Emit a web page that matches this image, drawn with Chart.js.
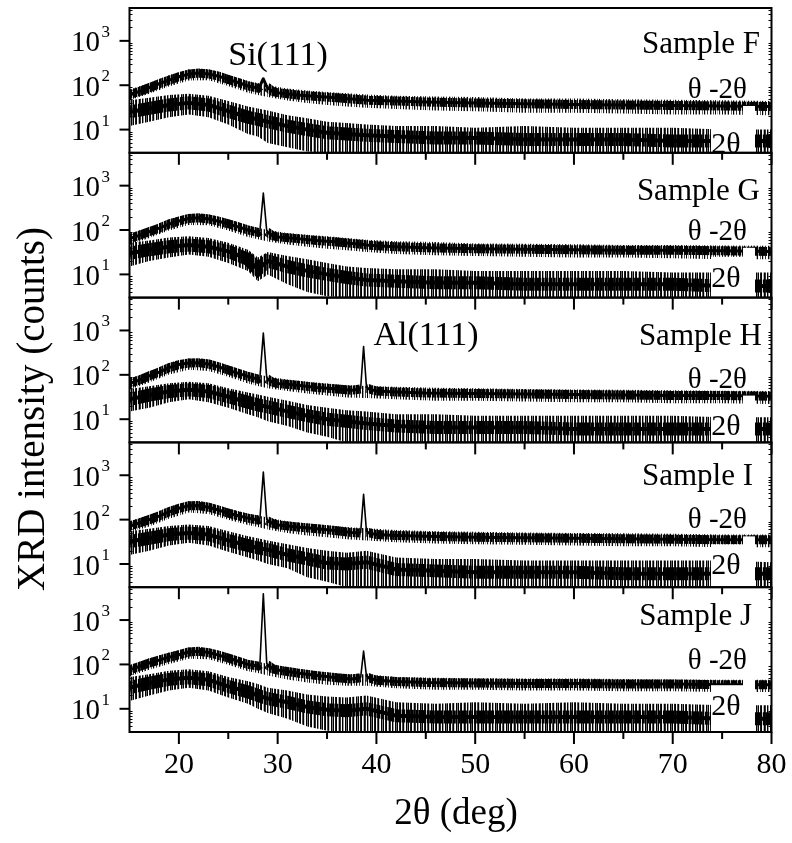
<!DOCTYPE html>
<html><head><meta charset="utf-8">
<script src="https://cdn.jsdelivr.net/npm/chart.js@4.4.1/dist/chart.umd.min.js"></script>
<style>html,body{margin:0;padding:0;background:#fff;}#wrap{position:relative;width:792px;height:843px;}</style>
</head><body><div id="wrap"><canvas id="c"></canvas></div>
<script>
// ---------- data ----------
const angleCore = [15,16,17,18,19,20,21,22,23,24,25,26,27,28,28.2,28.55,28.9,29.5,30,32,34,36,37.5,38.4,38.7,39.0,40,42,45,50,55,60,65,70,75,80];
const angleBand = [15,17,19,21,23,25,27,28,29,31,33,35,37,39,42,46,50,55,60,65,70,75,80];

const sampleNames = ['Sample F','Sample G','Sample H','Sample I','Sample J'];

// Sample F
const thetaCoreF = [62,72,88,108,130,155,178,188,180,160,135,115,96,86,95,140,92,72,68,60,56,52,49,47,47,46,45,44,42,40,38,37,36,35,34,33];
const thetaHiF   = [80,112,168,228,232,172,125,112,100,84,76,70,66,62,58,56,54,50,50,48,47,46,44];
const thetaLoF   = [46,64,94,128,130,96,68,60,54,45,40,36,33,31,29,27,26,24,24,23,22,22,21];
const twoCoreF   = [25,30,36,40,36,26,19,17,15,12,10,8.5,8,7.5,7,6.5,6.5,6,6,6,5.5,5.5,5.5];
const twoHiF     = [46,52,60,64,58,44,33,30,27,21,18,15,14,13,12,12,11,12,11,11,11,10,10];
const twoLoF     = [12,15,19,22,19,13,8,7,5,4,3.2,3,3,3,3,3,3,3,3,3,3,3,3];
// Sample G
const thetaCoreG = [64,76,92,110,136,160,182,188,178,158,138,118,100,88,95,680,92,74,70,64,58,54,50,48,47,46,44,42,40,38,37,36,35,35,34,33];
const thetaHiG   = [82,116,172,230,228,176,128,112,100,86,78,72,66,60,56,54,50,49,48,46,46,45,44];
const thetaLoG   = [46,66,98,130,128,98,70,62,55,47,42,38,35,32,29,27,26,25,24,24,23,22,22];
const twoCoreG   = [30,36,42,46,42,33,22,13,20,15,12,10,8.5,7.5,7,6.5,6.5,6,6,6,6,5.5,5.5];
const twoHiG     = [52,58,68,72,66,52,36,24,32,26,22,18,15,14,13,13,12,12,12,12,11,11,11];
const twoLoG     = [15,20,24,28,25,18,12,7,10,6,4,3.2,3,3,3,3,3,3,3,3,3,3,3];
// Sample H
const thetaCoreH = [64,76,95,115,145,170,185,188,175,152,128,108,92,80,85,870,82,68,64,58,52,48,45,48,435,50,43,41,39,38,37,36,35,34,34,33];
const thetaHiH   = [82,120,182,232,222,162,116,102,92,78,70,64,58,56,54,51,50,48,47,46,45,44,43];
const thetaLoH   = [46,67,102,130,122,90,64,56,50,43,38,34,31,30,28,26,26,25,24,24,23,23,22];
const twoCoreH   = [28,35,42,46,42,32,24,21,19,15,12,10,9,8,7,6.5,6.5,6.5,6,6,6,6,6];
const twoHiH     = [48,55,65,70,65,50,40,36,32,26,21,18,16,15,13,13,12,12,12,12,12,11,11];
const twoLoH     = [15,18,24,28,24,18,13,11,9,7,5,4,3,3,3,3,3,3,3,3,3,3,3];
// Sample I
const thetaCoreI = [72,84,100,120,150,180,205,208,190,165,140,122,108,98,102,1180,96,82,76,68,62,56,51,50,370,52,46,44,42,40,39,38,37,36,35,35];
const thetaHiI   = [92,128,192,258,240,178,136,124,112,92,82,75,68,64,58,55,53,51,50,49,48,46,46];
const thetaLoI   = [52,70,105,145,134,99,76,68,60,50,44,40,36,34,31,29,28,27,26,25,25,24,24];
const twoCoreI   = [32,38,46,50,46,34,26,23,21,16,13,10.5,10,11,7.5,7,6.5,6.5,6.5,6,6,6,6];
const twoHiI     = [55,62,72,78,72,55,42,38,34,28,23,20,18,20,14,13,13,12,12,12,12,12,11];
const twoLoI     = [16,20,26,30,26,19,14,12,10,8,5,4,3,3,3,3,3,3,3,3,3,3,3];
// Sample J
const thetaCoreJ = [75,90,108,125,145,165,190,198,185,162,140,118,100,92,100,3900,100,80,75,64,56,50,47,50,200,52,44,41,39,38,37,37,36,36,35,35];
const thetaHiJ   = [95,138,185,240,232,176,126,116,102,86,74,66,60,60,52,50,49,48,48,47,46,45,45];
const thetaLoJ   = [54,76,102,135,130,98,70,64,56,46,39,35,33,33,29,27,27,26,26,25,25,24,24];
const twoCoreJ   = [30,38,46,50,45,32,24,20,17,14,11,9.5,9,10,7,6.5,6.5,6.5,6.5,6.5,6.5,6,6];
const twoHiJ     = [52,60,72,78,70,52,42,36,30,26,21,19,18,20,14,13,14,13,14,13,13,12,12];
const twoLoJ     = [15,20,26,30,26,18,13,10,8,6,4,3.2,3,3,3,3,3,3,3,3,3,3,3];

const yTickValues = [10, 100, 1000];
const yTickExponents = ['1', '2', '3'];
const xTickValues = [20, 30, 40, 50, 60, 70, 80];
const xMinorTickValues = [25, 35, 45, 55, 65, 75];

// ---------- assembly ----------
const panels = [
  {thetaCore: thetaCoreF, thetaHi: thetaHiF, thetaLo: thetaLoF, twoCore: twoCoreF, twoHi: twoHiF, twoLo: twoLoF},
  {thetaCore: thetaCoreG, thetaHi: thetaHiG, thetaLo: thetaLoG, twoCore: twoCoreG, twoHi: twoHiG, twoLo: twoLoG},
  {thetaCore: thetaCoreH, thetaHi: thetaHiH, thetaLo: thetaLoH, twoCore: twoCoreH, twoHi: twoHiH, twoLo: twoLoH},
  {thetaCore: thetaCoreI, thetaHi: thetaHiI, thetaLo: thetaLoI, twoCore: twoCoreI, twoHi: twoHiI, twoLo: twoLoI},
  {thetaCore: thetaCoreJ, thetaHi: thetaHiJ, thetaLo: thetaLoJ, twoCore: twoCoreJ, twoHi: twoHiJ, twoLo: twoLoJ}
];

// label layout (pixel offsets from each panel's top)
const labelLayout = [
  {nameY: 35, nameRight: 760, thY: 80, twoY: 135},
  {nameY: 37, nameRight: 760, thY: 77, twoY: 124},
  {nameY: 37, nameRight: 762, thY: 80, twoY: 127},
  {nameY: 33, nameRight: 753, thY: 76, twoY: 122},
  {nameY: 28, nameRight: 752, thY: 72, twoY: 118}
];

const FONT = '"Liberation Serif","Times New Roman",Times,serif';
const canvas = document.getElementById('c');
const mainCtx = canvas.getContext('2d');

// vertical-stroke textures imitating dense scan noise (style only)
function stripePattern(alphas) {
  const pc = document.createElement('canvas');
  pc.width = alphas.length; pc.height = 2;
  const g = pc.getContext('2d');
  alphas.forEach((a, i) => { g.fillStyle = 'rgba(0,0,0,' + a + ')'; g.fillRect(i, 0, 1, 2); });
  return mainCtx.createPattern(pc, 'repeat');
}
const sparseAlphas = [0.9,0,0.3,1,0,0,0.6,0,1,0.2,0,0.8,0,0,1,0.4,0,0.7,0,1,0,0.3,0,0.9,0.1,0,1,0,0.5];
const mediumAlphas = [1,0,0.7,1,0.2,0,1,0.5,1,0,0.9,1,0,0.3,1,0.8,0,1,0.4,0,1,0.6,1,0,0.9];
const denseAlphas  = [1,1,0.4,1,0.9,1,0.2,1,1,0.7,1,0.1,1,1,0.8,1,0.3,1,1,0.6,1];
const sparse = stripePattern(sparseAlphas);
const medium = stripePattern(mediumAlphas);
const dense = stripePattern(denseAlphas);

const pts = (xs, ys) => xs.map((x, k) => ({x: x, y: ys[k]}));
const isSteep = ctx => Math.abs(ctx.p1.y - ctx.p0.y) > 6;
const clear = 'rgba(0,0,0,0)';
const datasets = [];
const scales = {
  x: {type: 'linear', min: 15, max: 80, ticks: {display: false}, grid: {display: false}, border: {display: false},
      afterFit(s) { s.height = 0; }}
};
// stacked scales are laid out in reverse creation order, so create the bottom panel first
for (let i = panels.length - 1; i >= 0; i--) {
  scales['y' + i] = {type: 'logarithmic', position: 'left', stack: 'panels', stackWeight: 1, min: 3, max: 5500,
    ticks: {display: false}, grid: {display: false}, border: {display: false}, afterFit(s) { s.width = 0; }};
}
panels.forEach((p, i) => {
  const yid = 'y' + i;
  const base = {yAxisID: yid, pointRadius: 0, borderJoinStyle: 'round'};
  // solid cores (drawn on top: earlier datasets are drawn last)
  datasets.push(Object.assign({}, base, {data: pts(angleCore, p.thetaCore), fill: false, borderColor: '#000', borderWidth: 3,
                 segment: {borderWidth: ctx => (Math.abs(ctx.p1.y - ctx.p0.y) > 25 ? 1.6 : undefined)}}));
  datasets.push(Object.assign({}, base, {data: pts(angleBand, p.twoCore), fill: false, borderColor: '#000', borderWidth: 4}));
  // dense halo around the cores
  datasets.push(Object.assign({}, base, {data: pts(angleCore, p.thetaCore), fill: false, borderColor: dense, borderWidth: 9,
                 borderJoinStyle: 'miter', segment: {borderColor: ctx => (isSteep(ctx) ? clear : undefined)}}));
  datasets.push(Object.assign({}, base, {data: pts(angleBand, p.twoCore), fill: false, borderColor: dense, borderWidth: 13, borderJoinStyle: 'miter'}));
  // outer envelopes (spikes)
  datasets.push(Object.assign({}, base, {data: pts(angleBand, p.thetaHi), fill: '+1', backgroundColor: sparse, borderColor: clear, borderWidth: 1}));
  datasets.push(Object.assign({}, base, {data: pts(angleBand, p.thetaLo), fill: false, borderColor: clear, borderWidth: 1}));
  datasets.push(Object.assign({}, base, {data: pts(angleBand, p.twoHi), fill: '+1', backgroundColor: medium, borderColor: clear, borderWidth: 1}));
  datasets.push(Object.assign({}, base, {data: pts(angleBand, p.twoLo), fill: false, borderColor: clear, borderWidth: 1}));
});

const deco = {
  id: 'deco',
  afterDatasetsDraw(chart) {
    const c = chart.ctx, xs = chart.scales.x, ca = chart.chartArea;
    c.save();
    c.fillStyle = '#000'; c.strokeStyle = '#000';
    panels.forEach((p, i) => {
      const s = chart.scales['y' + i];
      const top = s.top, bot = s.bottom, L = labelLayout[i];
      // white box behind the "2θ" label
      c.fillStyle = '#fff';
      c.fillRect(711, top + L.twoY - 20, 44, bot - (top + L.twoY - 20));
      c.fillRect(743, top + L.thY + 18, 12, bot - (top + L.thY + 18));
      c.fillStyle = '#000';
      // labels
      c.textAlign = 'right'; c.textBaseline = 'alphabetic';
      c.font = '31px ' + FONT;
      c.fillText(sampleNames[i], L.nameRight, top + L.nameY + 10);
      c.font = '29px ' + FONT;
      c.fillText('\u03B8 -2\u03B8', 747, top + L.thY + 10);
      c.textAlign = 'center';
      c.font = '30px ' + FONT;
      c.fillText('2\u03B8', 726, top + L.twoY + 10);
      // frame
      c.lineWidth = 2;
      c.strokeRect(ca.left, top, ca.right - ca.left, bot - top);
      // y major ticks + labels
      yTickValues.forEach((v, k) => {
        const y = s.getPixelForValue(v);
        c.beginPath(); c.moveTo(ca.left - 10, y); c.lineTo(ca.left, y); c.stroke();
        c.textAlign = 'right'; c.font = '29px ' + FONT;
        c.fillText('10', 100, y + 10.6);
        c.textAlign = 'left'; c.font = '17px ' + FONT;
        c.fillText(yTickExponents[k], 101.5, y - 4);
      });
      // y minor ticks (inward)
      c.lineWidth = 1;
      for (let d = 1; d <= 1000; d *= 10) {
        for (let m = 2; m <= 9; m++) {
          const v = m * d;
          if (v <= 3 || v >= 5500) continue;
          const y = Math.round(s.getPixelForValue(v)) + 0.5;
          c.beginPath(); c.moveTo(ca.left, y); c.lineTo(ca.left + 3, y);
          c.moveTo(ca.right, y); c.lineTo(ca.right - 3, y); c.stroke();
        }
      }
      // x ticks below each panel (outward)
      c.lineWidth = 2;
      xTickValues.forEach(v => {
        const x = xs.getPixelForValue(v);
        c.beginPath(); c.moveTo(x, bot); c.lineTo(x, bot + 12); c.stroke();
      });
      xMinorTickValues.forEach(v => {
        const x = xs.getPixelForValue(v);
        c.beginPath(); c.moveTo(x, bot); c.lineTo(x, bot + 7); c.stroke();
      });
    });
    // peak labels
    const s0 = chart.scales.y0, s2 = chart.scales.y2;
    c.textAlign = 'center'; c.font = '34px ' + FONT;
    c.fillText('Si(111)', 278, s0.top + 57);
    c.fillText('Al(111)', 426, s2.top + 47);
    // x tick labels
    c.font = '30px ' + FONT;
    xTickValues.forEach(v => { c.fillText(String(v), xs.getPixelForValue(v), 773); });
    // axis titles
    c.font = '37px ' + FONT;
    c.fillText('2\u03B8 (deg)', 456, 824);
    c.save();
    c.translate(44, 409); c.rotate(-Math.PI / 2);
    c.font = '39px ' + FONT; c.textAlign = 'center';
    c.fillText('XRD intensity (counts)', 0, 0);
    c.restore();
    c.restore();
  }
};

new Chart(canvas, {
  type: 'line',
  data: {datasets: datasets},
  options: {
    responsive: true, maintainAspectRatio: false, animation: false,
    layout: {padding: {left: 129.5, right: 20.5, top: 8, bottom: 111}},
    elements: {line: {tension: 0}},
    plugins: {legend: {display: false}, tooltip: {enabled: false}},
    scales: scales
  },
  plugins: [deco]
});
</script></body></html>
